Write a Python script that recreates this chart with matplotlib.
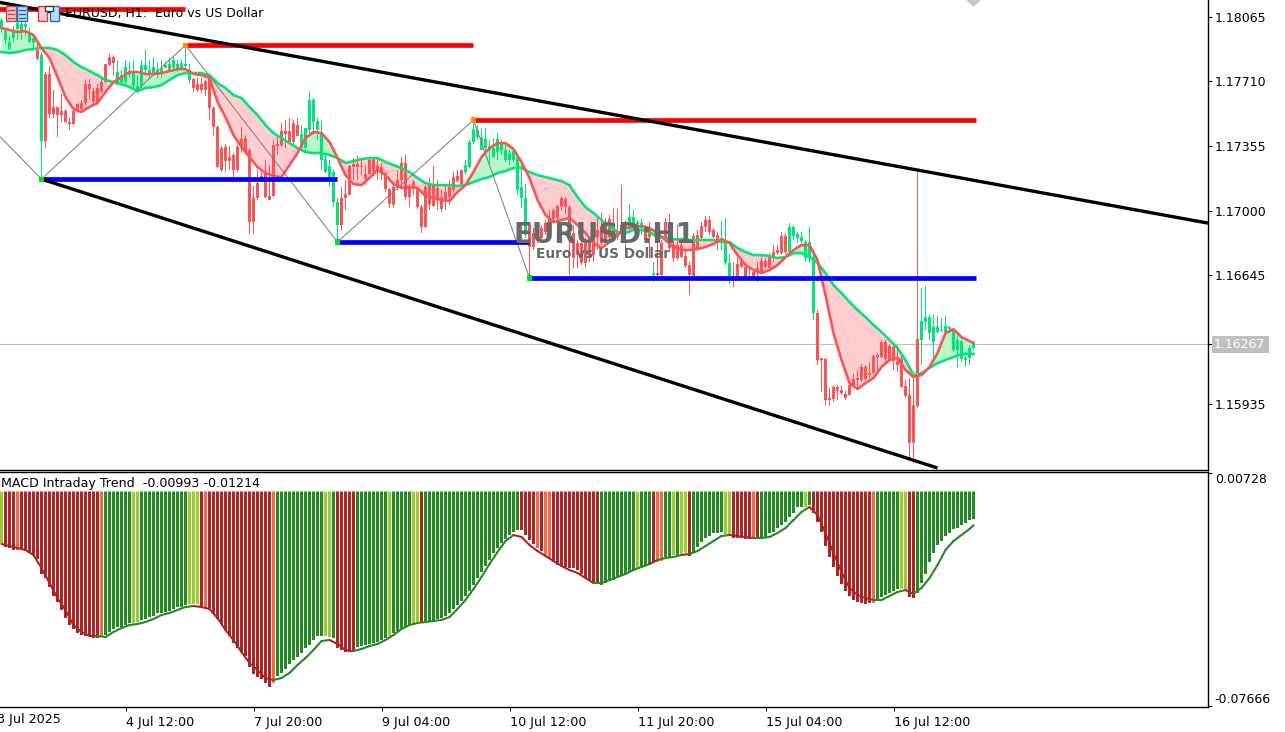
import numpy as np
import matplotlib
matplotlib.use("Agg")
import matplotlib.pyplot as plt
from matplotlib.patches import Rectangle, Polygon

W, H = 1285, 732
BASE = 1.15  # candle and MA values are in points above this price

# --- candles, EURUSD H1 ---
opens = [2998,2938,2888,2949,2998,2987,3010,2927,2922,2883,
 2382,2751,2751,2570,2570,2548,2548,2487,2548,2586,
 2591,2696,2696,2657,2674,2707,2806,2844,2844,2690,
 2707,2707,2746,2685,2657,2685,2773,2756,2756,2746,
 2762,2784,2773,2784,2784,2784,2795,2718,2723,2696,
 2696,2712,2734,2564,2459,2344,2350,2294,2306,2350,
 2394,2399,2333,2069,2151,2190,2206,2080,2360,2366,
 2438,2438,2438,2481,2470,2344,2344,2443,2487,2443,
 2278,2212,2179,2047,1920,2069,2091,2245,2256,2256,
 2245,2201,2278,2284,2245,2240,2206,2118,2130,2168,
 2262,2262,2135,2157,2124,2020,2130,2141,2135,2124,
 2074,2102,2130,2184,2190,2223,2212,2240,2377,2404,
 2333,2344,2333,2294,2322,2333,2278,2278,2278,2113,
 2069,1866,1920,1876,1882,1904,1932,1959,2003,2025,
 2069,2064,2020,1876,1822,1822,1822,1827,1866,1893,
 1910,1920,1954,1920,1882,1920,1893,1910,1910,1910,
 1904,1910,1893,1646,1656,1822,1937,1937,1810,1810,
 1810,1750,1700,1860,1866,1915,1948,1948,1893,1866,
 1822,1712,1618,1634,1706,1722,1690,1640,1662,1684,
 1722,1722,1744,1772,1783,1860,1860,1772,1860,1849,
 1832,1739,1739,1436,1436,1189,1184,969,1030,1030,
 1013,991,1040,1074,1079,1140,1140,1106,1200,1206,
 1277,1277,1255,1250,1172,1184,1035,986,930,1294,
 1288,1387,1326,1277,1332,1338,1332,1348,1233,1233,
 1184,1178,1189,1244]
highs = [3059,3004,2960,3015,3059,3048,3048,3004,2960,2927,
 2872,2762,2795,2663,2570,2641,2558,2509,2558,2591,
 2608,2718,2723,2674,2696,2734,2806,2861,2855,2828,
 2773,2828,2817,2828,2746,2828,2883,2828,2844,2817,
 2828,2817,2839,2844,2828,2828,2905,2806,2729,2729,
 2729,2718,2740,2575,2470,2355,2366,2355,2316,2360,
 2460,2415,2344,2135,2223,2212,2278,2250,2388,2415,
 2481,2498,2509,2498,2509,2470,2454,2657,2619,2509,
 2498,2306,2278,2223,2069,2130,2168,2250,2289,2300,
 2289,2250,2289,2295,2289,2262,2212,2124,2141,2223,
 2295,2306,2146,2168,2135,2031,2141,2179,2245,2168,
 2113,2141,2168,2212,2223,2223,2278,2388,2492,2470,
 2454,2454,2388,2399,2426,2388,2360,2333,2344,2306,
 2250,2146,1937,1904,1920,1920,1948,2003,2014,2031,
 2080,2075,2031,1920,1838,1866,1854,1849,1893,1959,
 1986,1959,1976,2014,2008,2140,1948,2036,2003,1948,
 1954,1920,1937,1717,1866,1838,1959,1981,1838,1920,
 1838,1783,1717,1876,1893,1937,1970,1970,1904,1882,
 1942,1959,1761,1717,1739,1739,1712,1684,1673,1717,
 1756,1739,1766,1810,1810,1882,1876,1931,1920,1882,
 1882,1838,1910,1783,1453,1189,1189,1024,1040,1040,
 1035,1008,1052,1101,1123,1156,1150,1167,1206,1216,
 1288,1288,1266,1260,1260,1206,1068,1079,1090,2223,
 1574,1585,1426,1426,1420,1409,1420,1365,1354,1326,
 1288,1222,1260,1277]
lows = [2976,2916,2883,2927,2938,2938,2960,2922,2894,2828,
 2179,2344,2509,2509,2404,2487,2481,2443,2470,2536,
 2542,2580,2608,2586,2580,2646,2701,2795,2746,2690,
 2685,2690,2729,2674,2641,2674,2756,2729,2746,2729,
 2729,2784,2762,2773,2762,2773,2784,2701,2652,2652,
 2646,2630,2498,2415,2234,2212,2212,2223,2179,2212,
 2316,2306,1871,1871,2058,2157,2069,2058,2074,2306,
 2350,2344,2372,2360,2410,2333,2322,2415,2415,2388,
 2223,2206,2135,2020,1838,1893,2003,2086,2168,2168,
 2195,2140,2196,2190,2168,2168,2102,2014,2014,2113,
 2124,2058,2020,2086,2008,1876,1904,2003,2020,2003,
 1992,2003,2031,2102,2157,2140,2196,2234,2366,2388,
 2333,2322,2250,2289,2278,2306,2267,2250,2267,2086,
 2014,1849,1629,1783,1822,1838,1866,1866,1937,1948,
 2003,1976,1646,1684,1684,1700,1684,1717,1717,1783,
 1810,1822,1838,1854,1838,1838,1744,1882,1893,1882,
 1866,1827,1739,1607,1629,1640,1838,1783,1717,1728,
 1739,1684,1535,1629,1783,1838,1882,1866,1838,1783,
 1783,1700,1596,1580,1629,1684,1629,1612,1634,1607,
 1651,1684,1684,1717,1756,1756,1761,1756,1838,1822,
 1810,1717,1712,1398,1150,1002,930,925,947,958,
 986,958,980,1030,1024,1057,1068,1079,1101,1112,
 1189,1167,1178,1123,1112,1024,969,628,611,914,
 1150,1343,1288,1167,1326,1332,1326,1326,1222,1134,
 1167,1140,1150,1233]
closes = [3048,2988,2927,2993,3032,3026,3026,2976,2949,2834,
 2856,2382,2531,2531,2525,2525,2487,2476,2476,2558,
 2558,2591,2668,2597,2591,2652,2707,2800,2811,2762,
 2746,2790,2768,2762,2685,2800,2800,2773,2790,2773,
 2784,2800,2806,2828,2806,2811,2806,2773,2674,2663,
 2663,2663,2564,2459,2240,2223,2273,2273,2223,2223,
 2344,2322,1937,1937,2069,2179,2074,2058,2080,2355,
 2360,2421,2377,2377,2410,2421,2454,2608,2608,2492,
 2427,2284,2245,2212,2047,1920,2069,2086,2240,2240,
 2240,2174,2201,2217,2212,2206,2118,2036,2031,2124,
 2168,2074,2074,2130,2020,1910,1910,2031,2025,2064,
 2008,2047,2074,2113,2162,2146,2250,2377,2448,2443,
 2404,2394,2355,2344,2394,2372,2333,2316,2328,2294,
 2130,2069,1800,1800,1849,1849,1882,1920,1954,1959,
 2020,2020,1849,1739,1756,1712,1712,1739,1756,1854,
 1822,1838,1854,1876,1854,1876,1920,1964,1964,1937,
 1932,1838,1854,1656,1646,1646,1854,1794,1739,1739,
 1744,1695,1646,1634,1794,1849,1910,1882,1854,1838,
 1849,1827,1712,1623,1634,1690,1634,1629,1640,1656,
 1656,1690,1684,1739,1766,1766,1772,1910,1910,1871,
 1854,1827,1827,1744,1178,1178,958,958,964,1008,
 997,969,986,1040,1068,1068,1074,1096,1106,1194,
 1194,1184,1184,1172,1150,1030,980,722,722,925,
 1392,1414,1414,1360,1360,1343,1365,1360,1343,1288,
 1282,1189,1244,1266]

# --- moving averages, read every second bar ---
ma_fast = [3004,2993,2982,2987,2965,2894,2839,2734,2624,2558,2542,2570,2592,2652,2707,2734,
 2762,2762,2751,2751,2756,2767,2778,2778,2751,2745,2729,2597,2514,2415,2349,2294,
 2239,2206,2190,2184,2250,2316,2399,2432,2426,2377,2289,2195,2146,2140,2179,2223,
 2195,2146,2124,2129,2124,2080,2069,2058,2052,2102,2140,2212,2294,2344,2371,2371,
 2338,2267,2179,2058,1975,1937,1948,1959,1920,1876,1821,1794,1827,1865,1904,1909,
 1915,1904,1876,1838,1800,1783,1783,1788,1800,1816,1843,1821,1755,1700,1673,1656,
 1673,1700,1744,1783,1810,1810,1728,1535,1326,1178,1051,1018,1051,1079,1139,1178,
 1189,1123,1084,1095,1139,1216,1326,1348,1304,1282,1271]
ma_slow = [2872,2866,2872,2883,2888,2894,2894,2883,2855,2817,2789,2767,2745,2718,2707,2696,
 2679,2657,2674,2679,2690,2718,2745,2756,2756,2756,2745,2701,2674,2635,2619,2570,
 2525,2470,2426,2399,2371,2344,2322,2316,2316,2305,2289,2261,2272,2283,2289,2289,
 2267,2250,2234,2212,2179,2151,2140,2140,2140,2135,2140,2157,2173,2184,2206,2217,
 2234,2234,2212,2195,2184,2173,2162,2140,2074,2019,1986,1948,1915,1882,1876,1893,
 1893,1882,1854,1849,1843,1843,1838,1838,1838,1838,1827,1827,1794,1772,1755,1755,
 1750,1739,1744,1766,1766,1744,1711,1656,1590,1546,1497,1453,1415,1371,1332,1288,
 1244,1178,1095,1106,1134,1161,1178,1194,1211,1211,1211]
ma_bars = list(range(0, 243, 2)) + [243]

# --- swing levels and zigzag ---
zigzag_bars = [-0.25, 10, 46, 84, 118, 132]
zigzag_pts = [2404, 2173, 2910, 1827, 2498, 1629]
red_levels = [(-1, 45.75, 3108), (46, 117.75, 2910), (118, 243.5, 2498)]
blue_levels = [(10, 83.75, 2173), (84, 131.75, 1827), (132, 243.5, 1629)]
channel_upper = [(-1, 3147), (301.6, 1931)]
channel_lower = [(10, 2173), (234, 584)]
last_price = 1.16267

price_ticks = [1.18065, 1.17710, 1.17355, 1.17000, 1.16645, 1.15935]
date_bars = [31, 63, 95, 127, 159, 191, 223]
date_labels = ["4 Jul 12:00", "7 Jul 20:00", "9 Jul 04:00", "10 Jul 12:00",
               "11 Jul 20:00", "15 Jul 04:00", "16 Jul 12:00"]

# --- MACD panel, values in 1e-5 ---
macd_hist = [-1854,-1998,-2034,-2106,-2106,-2070,-2106,-2178,-2286,-2430,
 -2970,-3114,-3438,-3762,-3978,-4266,-4554,-4806,-4950,-5094,
 -5166,-5202,-5202,-5274,-5274,-5238,-5166,-5058,-4950,-4878,
 -4878,-4806,-4734,-4734,-4698,-4626,-4590,-4518,-4482,-4374,
 -4374,-4338,-4302,-4230,-4158,-4158,-4086,-4050,-4050,-4050,
 -4158,-4194,-4266,-4410,-4590,-4770,-4986,-5202,-5454,-5634,
 -5778,-5922,-6318,-6570,-6678,-6750,-6894,-7038,-6894,-6642,
 -6534,-6390,-6210,-6066,-5958,-5814,-5634,-5526,-5346,-5202,
 -5202,-5202,-5238,-5274,-5634,-5706,-5778,-5778,-5742,-5598,
 -5562,-5526,-5490,-5454,-5418,-5346,-5274,-5202,-5094,-5022,
 -4914,-4878,-4806,-4770,-4734,-4734,-4698,-4662,-4626,-4590,
 -4554,-4482,-4374,-4230,-4086,-3942,-3762,-3582,-3366,-3114,
 -2898,-2682,-2466,-2214,-2034,-1854,-1710,-1566,-1458,-1386,
 -1386,-1566,-1746,-1890,-2034,-2142,-2286,-2430,-2538,-2646,
 -2682,-2718,-2754,-2754,-2826,-2970,-3114,-3222,-3294,-3330,
 -3366,-3294,-3222,-3186,-3114,-3042,-2970,-2898,-2862,-2754,
 -2682,-2646,-2610,-2538,-2538,-2502,-2358,-2358,-2286,-2286,
 -2250,-2214,-2322,-2214,-1998,-1818,-1674,-1602,-1494,-1494,
 -1458,-1530,-1566,-1674,-1674,-1674,-1710,-1710,-1674,-1710,
 -1674,-1638,-1494,-1458,-1314,-1206,-1098,-918,-774,-558,
 -558,-558,-486,-774,-1098,-1458,-1962,-2358,-2718,-3042,
 -3330,-3582,-3762,-3906,-3978,-4014,-4050,-4014,-4014,-3906,
 -3798,-3726,-3654,-3582,-3510,-3510,-3510,-3798,-3834,-3654,
 -3294,-2970,-2538,-2214,-1926,-1782,-1602,-1494,-1350,-1314,
 -1206,-1134,-1026,-993]
hist_runs = [('Y',1),('R',3),('T',1),('R',20),('T',1),('G',7),('Y',2),('G',12),('Y',3),('R',1),
 ('T',1),('R',16),('T',1),('G',12),('Y',2),('G',1),('R',5),('G',8),('Y',1),('G',5),
 ('Y',2),('R',1),('G',24),('R',4),('T',1),('R',1),('T',2),('R',12),('G',9),('Y',1),
 ('G',3),('R',1),('T',2),('G',2),('Y',1),('G',1),('Y',2),('R',1),('G',8),('Y',2),
 ('R',5),('T',1),('R',1),('G',11),('Y',1),('G',1),('R',15),('T',1),('G',6),('Y',2),
 ('R',2),('G',15)]
macd_line = [-1890,-1962,-2034,-2106,-2286,-2754,-3294,-3834,-4266,-4806,-5058,-5202,-5202,
 -5238,-5058,-4914,-4806,-4770,-4698,-4590,-4446,-4374,-4266,-4158,-4122,-4158,-4230,
 -4554,-4986,-5346,-5778,-6174,-6426,-6714,-6786,-6714,-6534,-6246,-5994,-5706,-5382,
 -5346,-5490,-5706,-5742,-5670,-5562,-5490,-5346,-5166,-4950,-4806,-4734,-4698,-4662,
 -4626,-4518,-4230,-3906,-3510,-3078,-2610,-2178,-1782,-1566,-1638,-1926,-2142,-2322,
 -2502,-2682,-2826,-2934,-3114,-3294,-3294,-3186,-3078,-2970,-2826,-2718,-2610,-2466,
 -2394,-2358,-2286,-2250,-2142,-1962,-1782,-1602,-1566,-1602,-1638,-1674,-1674,-1638,
 -1494,-1314,-1026,-738,-558,-846,-1494,-2214,-2898,-3474,-3726,-3834,-3906,-3906,
 -3762,-3618,-3546,-3690,-3474,-3114,-2646,-2106,-1782,-1566,-1350,-1214]
macd_line_bars = list(range(0, 243, 2)) + [243]
hist_colors = {'R': '#B22222', 'T': '#FF6347', 'G': '#228B22', 'Y': '#9ACD32'}

UP = '#00E676'
DOWN = '#FF5252'

plt.rcParams['font.family'] = ['DejaVu Sans']
fig = plt.figure(figsize=(W / 100, H / 100), dpi=100, facecolor='white')


def pane(top, bottom):
    # axes placed from pixel rows, the panes run from x=0 to x=1208
    ax = fig.add_axes([0, 1 - bottom / H, 1208 / W, (bottom - top) / H])
    ax.set_xlim(-0.375, 301.625)
    for side in ['left', 'top']:
        ax.spines[side].set_visible(False)
    for side in ['right', 'bottom']:
        ax.spines[side].set_linewidth(1.0)
    return ax


def px(points):
    return BASE + np.asarray(points, dtype=float) / 1e5


# --- 1. price pane ---
ax = pane(0, 470)
ax.set_ylim(px(573), px(3158))
bars = np.arange(len(opens))
o, h, l, c = px(opens), px(highs), px(lows), px(closes)
cols = [UP if cc >= oo else DOWN for oo, cc in zip(o, c)]

ax.axhline(last_price, color='#C0C0C0', lw=0.8, zorder=1)

fast, slow = px(ma_fast), px(ma_slow)
ax.fill_between(ma_bars, fast, slow, where=fast < slow, interpolate=True, color='#FFCDD2', lw=0, zorder=1)
ax.fill_between(ma_bars, fast, slow, where=fast >= slow, interpolate=True, color='#B9F6CA', lw=0, zorder=1)

# no snapping: bar edges already fall on whole pixels (3 px body, 1 px gap)
wicks = ax.vlines(bars, l, h, colors=cols, lw=0.72, zorder=2)
wicks.set_snap(False)
bodies = ax.bar(bars, np.maximum(np.abs(c - o), 0.00002), bottom=np.minimum(o, c), width=0.75,
                color=cols, lw=0, zorder=2)
for b in bodies:
    b.set_snap(False)

ax.plot(ma_bars, slow, color=UP, lw=1.9, zorder=3)
ax.plot(ma_bars, fast, color=DOWN, lw=1.9, zorder=3)

# zigzag and channel
ax.plot(zigzag_bars, px(zigzag_pts), color='#808080', lw=0.75, zorder=3)
for line in [channel_upper, channel_lower]:
    ax.plot([p[0] for p in line], px([p[1] for p in line]), color='black', lw=2.4,
            solid_capstyle='butt', zorder=5)
for levels, col in [(red_levels, '#FF0000'), (blue_levels, '#0000FF')]:
    for start, end, val in levels:
        ax.plot([start, end], px([val, val]), color=col, lw=3.4, solid_capstyle='butt', zorder=4)
ax.scatter(zigzag_bars[1:], px(zigzag_pts[1:]), marker='s', s=13, lw=0, zorder=6,
           color=['#00E020', '#FF8C00', '#00E020', '#FF8C00', '#00E020'])

ax.set_xticks([])
ax.yaxis.tick_right()
ax.set_yticks(price_ticks)
ax.set_yticklabels(['%.5f' % v for v in price_ticks])
ax.tick_params(axis='y', length=2.9, width=0.8, pad=2, labelsize=9)

# --- 2. MACD pane ---
ax2 = pane(472, 707)
scale = 36  # 1e-5 per pixel row
ax2.set_ylim(-(707 - 491.5) * scale / 1e5, (491.5 - 472) * scale / 1e5)
ax2.spines['top'].set_visible(True)
ax2.spines['top'].set_linewidth(1.0)
states = [s for s, n in hist_runs for _ in range(n)]
hist = ax2.bar(bars, np.array(macd_hist) / 1e5, width=0.75, color=[hist_colors[s] for s in states], lw=0)
for b in hist:
    b.set_snap(False)
line_vals = np.array(macd_line) / 1e5
for k in range(len(macd_line_bars) - 1):
    state = states[macd_line_bars[k + 1]]
    ax2.plot(macd_line_bars[k:k + 2], line_vals[k:k + 2], lw=1.5, solid_capstyle='round',
             color='#B22222' if state in 'RT' else '#228B22')

ax2.yaxis.tick_right()
ax2.set_yticks([(491.5 - 473) * scale / 1e5, -(706 - 491.5) * scale / 1e5])
labels = ax2.set_yticklabels(['0.00728', '-0.07666'])
labels[0].set_va('top')
labels[1].set_va('bottom')
ax2.tick_params(axis='y', length=2.9, width=0.8, pad=2, labelsize=9)
ax2.set_xticks(date_bars)
ax2.set_xticklabels(date_labels, ha='left')
ax2.tick_params(axis='x', length=2.9, width=0.8, pad=3.5, labelsize=9.2)

# --- 3. overlay in pixel rows: header, watermark, icons, price tag ---
ov = fig.add_axes([0, 0, 1, 1], facecolor='none')
ov.set_xlim(0, W)
ov.set_ylim(H, 0)
ov.axis('off')

ov.text(65, 14, 'EURUSD, H1:  Euro vs US Dollar', fontsize=9, va='center', color='black', zorder=3)
ov.text(1, 483.5, 'MACD Intraday Trend  -0.00993 -0.01214', fontsize=9.1, va='center', color='black')
ov.text(-3, 719.5, '3 Jul 2025', fontsize=9.2, va='center', color='black')

ov.text(513, 235, 'EURUSD:H1', fontsize=20, fontweight='bold', va='center', color='#696969', zorder=4)
ov.text(536, 254, 'Euro vs US Dollar', fontsize=9.9, fontweight='bold', va='center', color='#696969', zorder=4)

# toolbar icons
for x0, w, col, edge in [(6, 10, '#F8C8C8', '#D04040'), (17, 10, '#BBDDF5', '#2070B0'),
                         (38, 9, '#F8C8C8', '#D04040'), (50, 9, '#BBDDF5', '#2070B0')]:
    ov.add_patch(Rectangle((x0, 6), w, 15, fc=col, ec=edge, lw=1.0, zorder=5))
for x0, col in [(8, '#D04040'), (19, '#2070B0')]:
    for yy in (10, 14, 18):
        ov.plot([x0, x0 + 6], [yy, yy], color=col, lw=1.0, zorder=6)
ov.add_patch(Rectangle((45, 6), 8, 5, fc='white', ec='#404040', lw=1.0, zorder=6))

# price tag of the last price
ov.add_patch(Rectangle((1212, 336), 57, 17, fc='#C0C0C0', ec='none', zorder=3))
ov.text(1214, 344.5, '%.5f' % last_price, fontsize=9, color='white', va='center', zorder=4)
ov.plot([1208, 1212], [344, 344], color='black', lw=0.8)

# clipped marker at the top edge
ov.add_patch(Polygon([(966, 0), (981, 0), (973.5, 7)], fc='#C8C8C8', ec='none'))

fig.savefig('out.png', dpi=100, facecolor='white')
